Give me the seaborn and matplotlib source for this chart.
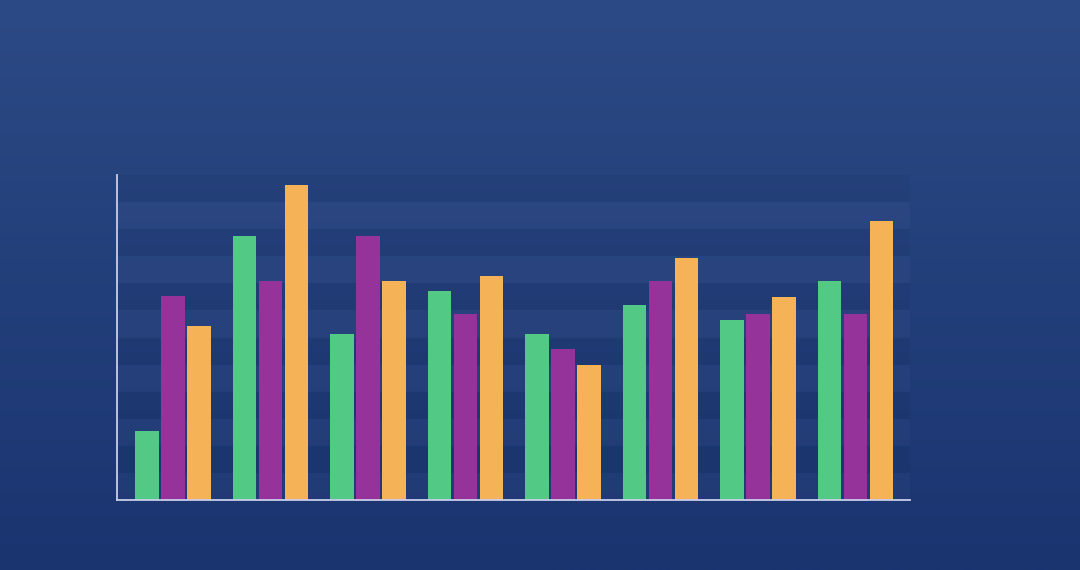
import numpy as np
import pandas as pd
import matplotlib
matplotlib.use("Agg")
import matplotlib.pyplot as plt
from matplotlib.colors import LinearSegmentedColormap
import seaborn as sns

# values (scale 0-120, no labels shown)
categories = ["A", "B", "C", "D", "E", "F", "G", "H"]
series_names = ["Series 1", "Series 2", "Series 3"]
series_1 = [25.6, 97.5, 61.2, 77.2, 61.2, 71.9, 66.4, 80.9]
series_2 = [75.3, 80.9, 97.5, 68.7, 55.8, 80.9, 68.7, 68.7]
series_3 = [64.4, 116.3, 80.9, 82.7, 50.0, 89.5, 75.0, 103.1]
colors = ["#52c985", "#96339a", "#f6b256"]

df = pd.DataFrame({
    "category": categories * 3,
    "series": np.repeat(series_names, len(categories)),
    "value": series_1 + series_2 + series_3,
})

sns.set_theme(style="white")

fig = plt.figure(figsize=(10.8, 5.7), dpi=100)

# background gradient, lighter at the top
bg = fig.add_axes([0, 0, 1, 1], zorder=0)
grad = LinearSegmentedColormap.from_list("bg", ["#1a3470", "#2c4a85"])
bg.imshow(np.linspace(0, 1, 256).reshape(-1, 1), aspect="auto", cmap=grad,
          origin="lower", extent=[0, 1, 0, 1])
bg.set_axis_off()

W, H = 1080, 570
left, right, top, bottom = 117, 910, 175, 500
ax = fig.add_axes([left / W, (H - bottom) / H, (right - left) / W, (bottom - top) / H], zorder=1)
ax.set_facecolor("none")

# alternating horizontal bands (subtle)
for i, y0 in enumerate(range(0, 120, 10)):
    if i % 2 == 0:
        ax.axhspan(y0, y0 + 10, color="white", alpha=0.025, lw=0, zorder=0)
    else:
        ax.axhspan(y0, y0 + 10, color="black", alpha=0.035, lw=0, zorder=0)

sns.barplot(data=df, x="category", y="value", hue="series", palette=colors,
            width=0.8, gap=0.1, saturation=1, linewidth=0, legend=False,
            ax=ax, zorder=2)

ax.set_xlim(-0.574, 7.56)
ax.set_ylim(0, 120)
ax.set_xlabel("")
ax.set_ylabel("")
ax.set_xticks([])
ax.set_yticks([])
for side in ["top", "right"]:
    ax.spines[side].set_visible(False)
for side in ["left", "bottom"]:
    ax.spines[side].set_color("#c9cdea")
    ax.spines[side].set_linewidth(1.3)

fig.savefig("out.png", dpi=100)
